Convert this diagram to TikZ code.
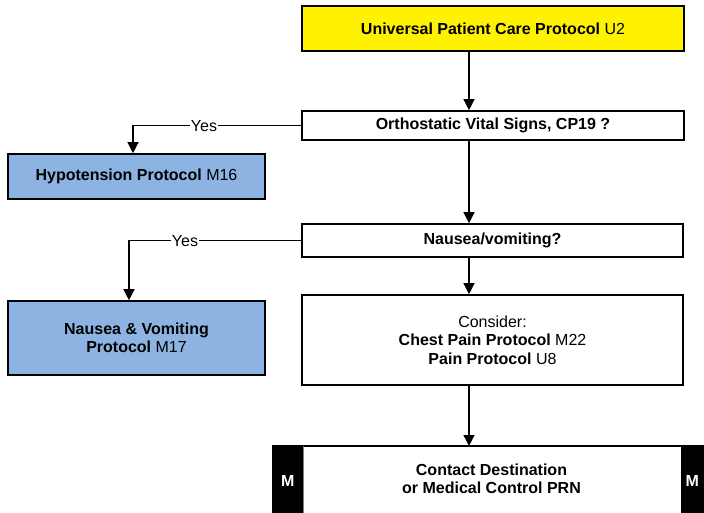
\documentclass[tikz,border=0pt]{standalone}
\usepackage{fontspec}
\setmainfont{Liberation Sans}
\usetikzlibrary{arrows.meta,positioning}
\definecolor{protoblue}{HTML}{8DB3E2}
\tikzset{
  box/.style={draw=black, line width=1.6pt, rectangle, inner sep=0pt, align=center,
    font=\fontsize{16}{18.5}\selectfont},
  arr/.style={line width=1.3pt, -{Triangle[width=11pt,length=11pt]}},
  yeslbl/.style={fill=white, inner sep=1pt, font=\fontsize{16}{18.5}\selectfont},
  mtab/.style={fill=black, text=white, inner sep=0pt, font=\bfseries\fontsize{16}{18.5}\selectfont}
}
\begin{document}
\begin{tikzpicture}[x=1pt,y=-1pt]
  \clip (0,0) rectangle (704,513);
  \fill[white] (0,0) rectangle (704,513);

  % main column
  \node[box, fill=yellow, minimum width=382pt, minimum height=45pt] (top) at (493,28.5)
    {\textbf{Universal Patient Care Protocol} U2};
  \node[box, fill=white, minimum width=382pt, minimum height=29pt] (ortho) at (493,125.5)
    {\textbf{Orthostatic Vital Signs, CP19 ?}};
  \node[box, fill=white, minimum width=381pt, minimum height=33pt] (nausea) at (492.5,240.5)
    {\textbf{Nausea/vomiting?}};
  \node[box, fill=white, minimum width=381pt, minimum height=90pt] (consider) at (492.5,340)
    {Consider:\\ \textbf{Chest Pain Protocol} M22\\ \textbf{Pain Protocol} U8};

  % side protocols
  \node[box, fill=protoblue, minimum width=257pt, minimum height=45pt] (hypo) at (136.5,176.5)
    {\textbf{Hypotension Protocol} M16};
  \node[box, fill=protoblue, minimum width=257pt, minimum height=74pt] (nv) at (136.5,338)
    {\textbf{Nausea \& Vomiting}\\ \textbf{Protocol} M17};

  % contact bar with M tabs
  \node[mtab, minimum width=31pt, minimum height=70pt, anchor=north west] (mleft) at (272,446) {M};
  \node[mtab, minimum width=24pt, minimum height=70pt, anchor=north west] (mright) at (680,446) {M};
  \node[box, draw=none, fill=white, minimum width=377pt, minimum height=70pt, anchor=north west] (contact) at (303,446) {};
  \node[font=\bfseries\fontsize{16}{18.5}\selectfont, align=center] (contacttext) at (491.5,479)
    {Contact Destination\\ or Medical Control PRN};
  \draw[line width=1.6pt] (mleft.north west) -- (mright.north east);
  \draw[line width=0.6pt, gray] (contact.north west) -- (contact.south west);

  % vertical flow
  \coordinate (axis) at (469,0);
  \draw[arr] (top.south -| axis) -- (ortho.north -| axis);
  \draw[arr] (ortho.south -| axis) -- (nausea.north -| axis);
  \draw[arr] (nausea.south -| axis) -- (consider.north -| axis);
  \draw[arr] (consider.south -| axis) -- (contact.north -| axis);

  % yes branches
  \coordinate (hyx) at (133,0);
  \coordinate (nvx) at (129,0);
  \draw[arr] (ortho.west) -- (ortho.west -| hyx) -- (hypo.north -| hyx);
  \node[yeslbl] (yes1) at (204,126) {Yes};
  \draw[arr] (nausea.west) -- (nausea.west -| nvx) -- (nv.north -| nvx);
  \node[yeslbl] (yes2) at (185,241) {Yes};
\end{tikzpicture}
\end{document}
